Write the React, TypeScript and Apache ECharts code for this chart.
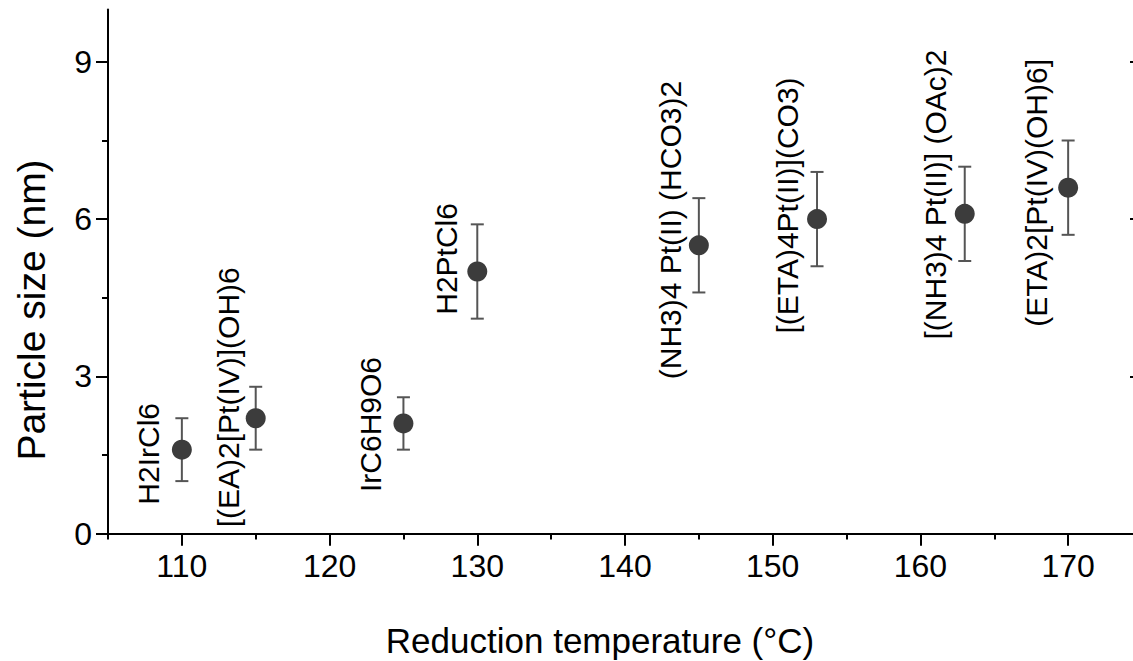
import React, { useEffect, useRef } from "react";
import * as echarts from "echarts";

const temperatures = [110, 115, 125, 130, 145, 153, 163, 170];
const particleSizes = [1.6, 2.2, 2.1, 5.0, 5.5, 6.0, 6.1, 6.6];
const sizeErrors = [0.6, 0.6, 0.5, 0.9, 0.9, 0.9, 0.9, 0.9];
const precursorNames = [
  "H2IrCl6",
  "[(EA)2[Pt(IV)](OH)6",
  "IrC6H9O6",
  "H2PtCl6",
  "(NH3)4 Pt(II) (HCO3)2",
  "[(ETA)4Pt(II)](CO3)",
  "[(NH3)4 Pt(II)] (OAc)2",
  "(ETA)2[Pt(IV)(OH)6]",
];
// label anchor (centre of rotated text) in data units
const labelAnchorX = [107.75, 113.13, 122.74, 127.89, 143.05, 151.03, 161.05, 167.88];
const labelAnchorY = [1.52, 2.6, 2.08, 5.24, 5.79, 6.26, 6.47, 6.5];

const xMajorTicks = [110, 120, 130, 140, 150, 160, 170];
const xMinorTicks = [105, 115, 125, 135, 145, 155, 165, 175];
const yMajorTicks = [0, 3, 6, 9];
const yMinorTicks = [1.5, 4.5, 7.5];

const FONT = "'Liberation Sans', Arial, sans-serif";

export default function App() {
  const ref = useRef<HTMLDivElement>(null);
  useEffect(() => {
    if (!ref.current) return;
    const chart = echarts.init(ref.current, undefined, { renderer: "svg" });
    const axisLine = { show: true, lineStyle: { color: "#000", width: 2 } };
    const option: any = {
      animation: false,
      backgroundColor: "#fff",
      textStyle: { fontFamily: FONT },
      grid: { left: 108, top: 9.5, width: 1034, height: 524, containLabel: false, outerBoundsMode: "none" },
      xAxis: [
        {
          type: "value", min: 105, max: 175, position: "bottom",
          axisLine,
          axisTick: { show: true, inside: false, length: 12, customValues: xMajorTicks, lineStyle: { color: "#000", width: 2 } },
          axisLabel: { show: true, customValues: xMajorTicks, fontSize: 32, color: "#000", margin: 16, fontFamily: FONT },
          splitLine: { show: false },
        },
        {
          type: "value", min: 105, max: 175, position: "bottom",
          axisLine: { show: false },
          axisTick: { show: true, inside: false, length: 6, customValues: xMinorTicks, lineStyle: { color: "#000", width: 2 } },
          axisLabel: { show: false },
          splitLine: { show: false },
        },
        {
          type: "value", min: 105, max: 175, position: "top",
          axisLine,
          axisTick: { show: true, inside: true, length: 12, customValues: xMajorTicks, lineStyle: { color: "#000", width: 2 } },
          axisLabel: { show: false },
          splitLine: { show: false },
        },
      ],
      yAxis: [
        {
          type: "value", min: 0, max: 10, position: "left",
          axisLine,
          axisTick: { show: true, inside: false, length: 12, customValues: yMajorTicks, lineStyle: { color: "#000", width: 2 } },
          axisLabel: { show: true, customValues: yMajorTicks, fontSize: 32, color: "#000", margin: 16, fontFamily: FONT },
          splitLine: { show: false },
        },
        {
          type: "value", min: 0, max: 10, position: "left",
          axisLine: { show: false },
          axisTick: { show: true, inside: false, length: 6, customValues: yMinorTicks, lineStyle: { color: "#000", width: 2 } },
          axisLabel: { show: false },
          splitLine: { show: false },
        },
        {
          type: "value", min: 0, max: 10, position: "right",
          axisLine,
          axisTick: { show: true, inside: true, length: 12, customValues: yMajorTicks, lineStyle: { color: "#000", width: 2 } },
          axisLabel: { show: false },
          splitLine: { show: false },
        },
      ],
      graphic: [
        {
          type: "text", x: 600, y: 640,
          style: { text: "Reduction temperature (°C)", fontSize: 35, fill: "#000", align: "center", verticalAlign: "middle", fontFamily: FONT },
        },
        {
          type: "text", x: 31, y: 310, rotation: Math.PI / 2,
          style: { text: "Particle size (nm)", fontSize: 39, fill: "#000", align: "center", verticalAlign: "middle", fontFamily: FONT },
        },
      ],
      series: [
        {
          type: "custom",
          xAxisIndex: 0, yAxisIndex: 0,
          data: temperatures.map((t, i) => [t, particleSizes[i], sizeErrors[i]]),
          renderItem: (params: any, api: any) => {
            const x = api.value(0);
            const y = api.value(1);
            const e = api.value(2);
            const lo = api.coord([x, y - e]);
            const hi = api.coord([x, y + e]);
            const w = 6.5;
            const st = { stroke: "#555", lineWidth: 2 };
            return {
              type: "group",
              children: [
                { type: "line", shape: { x1: lo[0], y1: lo[1], x2: hi[0], y2: hi[1] }, style: st },
                { type: "line", shape: { x1: lo[0] - w, y1: lo[1], x2: lo[0] + w, y2: lo[1] }, style: st },
                { type: "line", shape: { x1: hi[0] - w, y1: hi[1], x2: hi[0] + w, y2: hi[1] }, style: st },
              ],
            };
          },
          z: 2,
        },
        {
          type: "scatter",
          xAxisIndex: 0, yAxisIndex: 0,
          data: temperatures.map((t, i) => [t, particleSizes[i]]),
          symbol: "circle",
          symbolSize: 20,
          itemStyle: { color: "#3c3c3c", opacity: 1 },
          z: 3,
        },
        {
          type: "custom",
          xAxisIndex: 0, yAxisIndex: 0,
          data: precursorNames.map((n, i) => [labelAnchorX[i], labelAnchorY[i], i]),
          renderItem: (params: any, api: any) => {
            const p = api.coord([api.value(0), api.value(1)]);
            const idx = api.value(2);
            return {
              type: "text",
              x: p[0], y: p[1],
              rotation: Math.PI / 2,
              style: { text: precursorNames[idx], fontSize: 30, fill: "#000", align: "center", verticalAlign: "middle", fontFamily: FONT },
            };
          },
          z: 4,
        },
      ],
    };
    chart.setOption(option);
    return () => chart.dispose();
  }, []);
  return (
    <div
      ref={ref}
      style={{ position: "fixed", left: 0, top: 0, width: 1133, height: 661, background: "#fff" }}
    />
  );
}
